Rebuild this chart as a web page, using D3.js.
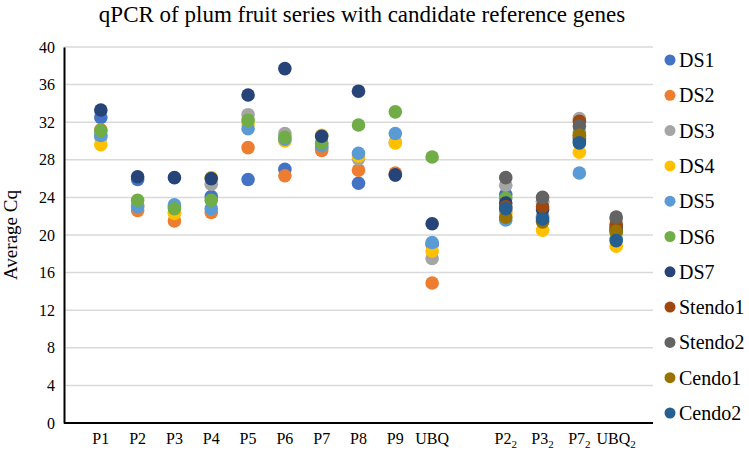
<!DOCTYPE html>
<html>
<head>
<meta charset="utf-8">
<script src="https://cdn.jsdelivr.net/npm/d3@7"></script>
<style>
  body { margin: 0; background: #fff; }
  svg text { font-family: "Liberation Serif", "Times New Roman", serif; fill: #000; }
</style>
</head>
<body>
<div id="chart"></div>
<script>
/*
 * Data
 */

// "_" marks a subscript in the tick label
const categories = ['P1', 'P2', 'P3', 'P4', 'P5', 'P6', 'P7', 'P8', 'P9', 'UBQ',
  'P2_2', 'P3_2', 'P7_2', 'UBQ_2']

const seriesNames = ['DS1', 'DS2', 'DS3', 'DS4', 'DS5', 'DS6', 'DS7',
  'Stendo1', 'Stendo2', 'Cendo1', 'Cendo2']

const seriesColors = ['#4472C4', '#ED7D31', '#A5A5A5', '#FFC000', '#5B9BD5', '#70AD47',
  '#264478', '#9E480E', '#636363', '#997300', '#255E91']

const ds1 = [32.5, 25.9, 23.0, 24.1, 25.9, 27.0, 29.3, 25.5, 26.4, 19.0, 24.3, 23.6, 30.3, 20.9]
const ds2 = [31.2, 22.6, 21.5, 22.4, 29.3, 26.3, 29.0, 26.9, 26.6, 14.9, 22.5, 22.0, 30.5, 20.5]
const ds3 = [30.4, 23.2, 22.4, 25.4, 32.8, 30.8, 29.7, 28.1, 29.9, 17.5, 25.3, 23.4, 32.4, 21.7]
const ds4 = [29.6, 23.1, 22.3, 26.1, 31.8, 30.0, 30.6, 28.4, 29.8, 18.3, 22.2, 20.5, 28.8, 18.8]
const ds5 = [30.6, 23.0, 23.2, 22.8, 31.3, 30.2, 29.5, 28.7, 30.8, 19.2, 21.6, 21.9, 26.6, 19.6]
const ds6 = [31.1, 23.7, 22.8, 23.7, 32.2, 30.4, 29.8, 31.7, 33.1, 28.3, 23.9, 21.5, 30.9, 20.2]
const ds7 = [33.3, 26.2, 26.1, 26.0, 34.9, 37.7, 30.5, 35.3, 26.4, 21.2, 23.4, 22.7, 30.0, 20.6]
const stendo1 = [null, null, null, null, null, null, null, null, null, null, 23.0, 23.0, 32.1, 21.1]
const stendo2 = [null, null, null, null, null, null, null, null, null, null, 26.1, 24.0, 31.6, 21.9]
const cendo1 = [null, null, null, null, null, null, null, null, null, null, 21.9, 21.4, 30.6, 20.4]
const cendo2 = [null, null, null, null, null, null, null, null, null, null, 22.8, 21.7, 29.8, 19.4]

const yTicks = [0, 4, 8, 12, 16, 20, 24, 28, 32, 36, 40]

const seriesValues = [ds1, ds2, ds3, ds4, ds5, ds6, ds7, stendo1, stendo2, cendo1, cendo2]


/*
 * Initialize SVG
 */

const w = 749
const h = 451
const margin = { top: 47, right: 96, bottom: 28, left: 64 }
const serif = '"Liberation Serif", "Times New Roman", serif'

const svg = d3.select('#chart')
  .append('svg')
  .attr('width', w)
  .attr('height', h)

// first group sits on slots 1..10, second group after one empty slot
const slot = i => i < 10 ? i + 1 : i + 2

const x = d3.scaleLinear()
  .domain([0, 16])
  .range([margin.left, w - margin.right])

const y = d3.scaleLinear()
  .domain([0, 40])
  .range([h - margin.bottom, margin.top])

// gridlines
svg.append('g')
  .selectAll('line')
  .data(yTicks.filter(t => t > 0))
  .enter()
  .append('line')
  .attr('x1', x(0))
  .attr('x2', x(16))
  .attr('y1', d => y(d))
  .attr('y2', d => y(d))
  .style('stroke', '#d9d9d9')
  .style('stroke-width', 1.5)

// y axis
const yAxis = svg.append('g')
  .attr('transform', `translate(${x(0)},0)`)
  .call(d3.axisLeft(y).tickValues(yTicks).tickSize(0).tickPadding(9))
yAxis.attr('font-family', serif)
yAxis.select('.domain').style('stroke', '#000').style('stroke-width', 2)
yAxis.selectAll('text')
  .style('font-family', serif)
  .style('font-size', '16px')
  .style('fill', '#000')

// x axis
svg.append('line')
  .attr('x1', x(0))
  .attr('x2', x(16))
  .attr('y1', y(0))
  .attr('y2', y(0))
  .style('stroke', '#000')
  .style('stroke-width', 2)

const xLabels = svg.append('g')
  .selectAll('text')
  .data(categories)
  .enter()
  .append('text')
  .attr('x', (d, i) => x(slot(i)))
  .attr('y', y(0) + 21)
  .attr('text-anchor', 'middle')
  .style('font-family', serif)
  .style('font-size', '16px')

xLabels.each(function(d) {
  const parts = d.split('_')
  const t = d3.select(this)
  t.append('tspan').text(parts[0])
  if (parts[1]) {
    t.append('tspan')
      .attr('dy', 4)
      .style('font-size', '11px')
      .text(parts[1])
  }
})

// points
seriesValues.forEach((vals, s) => {
  svg.append('g')
    .selectAll('circle')
    .data(vals.map((v, i) => ({ v: v, i: i })).filter(d => d.v !== null))
    .enter()
    .append('circle')
    .attr('cx', d => x(slot(d.i)))
    .attr('cy', d => y(d.v))
    .attr('r', 6.8)
    .style('fill', seriesColors[s])
})

// title
svg.append('text')
  .attr('x', 362)
  .attr('y', 22)
  .attr('text-anchor', 'middle')
  .style('font-family', serif)
  .style('font-size', '23px')
  .text('qPCR of plum fruit series with candidate reference genes')

// y label
svg.append('text')
  .attr('transform', `translate(17,${y(20)}) rotate(-90)`)
  .attr('text-anchor', 'middle')
  .style('font-family', serif)
  .style('font-size', '19px')
  .text('Average Cq')

// legend
const legend = svg.append('g')
  .selectAll('g')
  .data(seriesNames)
  .enter()
  .append('g')
  .attr('transform', (d, i) => `translate(670,${60 + i * 35.3})`)

legend.append('circle')
  .attr('r', 5.5)
  .style('fill', (d, i) => seriesColors[i])

legend.append('text')
  .attr('x', 9)
  .attr('y', 7)
  .style('font-family', serif)
  .style('font-size', '20px')
  .text(d => d)
</script>
</body>
</html>
